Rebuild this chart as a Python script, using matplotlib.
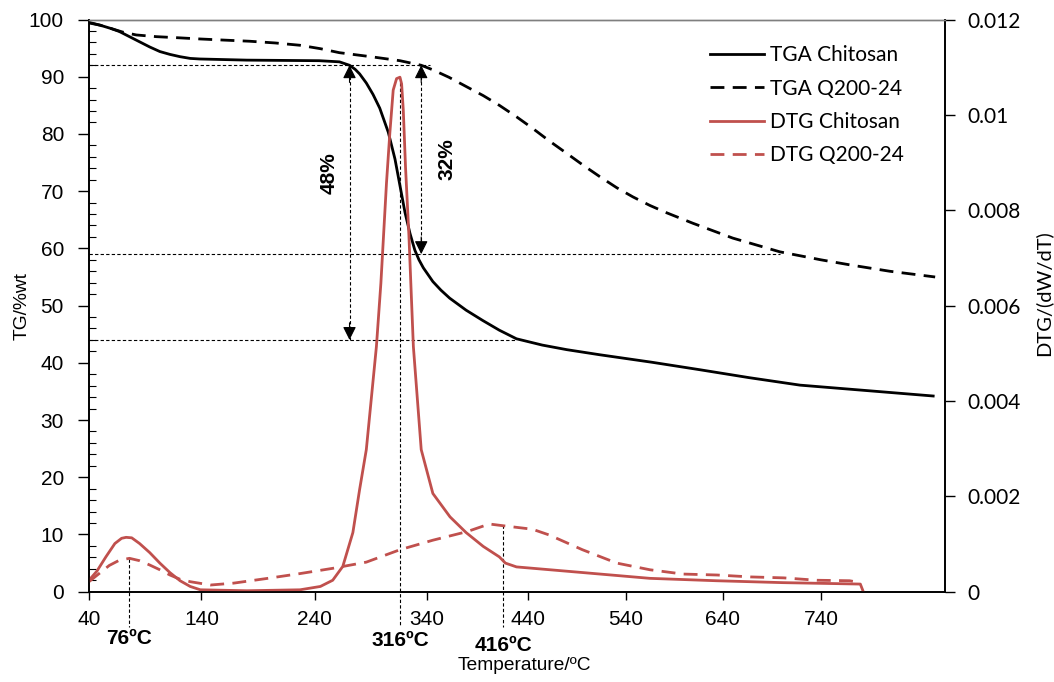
import numpy as np
import matplotlib.pyplot as plt
from matplotlib.font_manager import FontProperties

plt.rcParams['font.family'] = ['Liberation Sans', 'DejaVu Sans']

# TGA curves (left axis, %wt)
tga_chit_T = [40, 50, 60, 67, 76, 85, 94, 103, 112, 121, 130, 138.5, 180, 244, 262, 271, 276,
              280, 286, 292, 298, 305.6, 311.6, 316, 320.5, 325, 329.3, 333, 336.9, 346, 354,
              362.7, 379, 395.5, 412, 429, 455, 480, 514, 567, 616, 667, 718.6, 790, 854]
tga_chit = [99.4, 99.0, 98.4, 97.9, 97.0, 96.1, 95.2, 94.4, 93.9, 93.5, 93.2, 93.1, 92.9, 92.8,
            92.6, 92.0, 91.3, 90.5, 88.9, 86.9, 84.5, 80.3, 75.6, 71.0, 66.3, 62.6, 59.7, 58.0,
            56.6, 54.2, 52.7, 51.3, 49.2, 47.4, 45.7, 44.2, 43.1, 42.3, 41.4, 40.1, 38.8, 37.4,
            36.1, 35.1, 34.2]

tga_q_T = [40, 50, 60, 70, 82, 100, 120, 138.5, 160, 182.6, 205, 226.8, 245, 262, 290, 316, 335,
           346, 362, 380, 396, 412, 429, 445, 462, 480, 497, 514, 531, 547.5, 565, 582.5, 609,
           650, 698, 740, 770, 810, 856]
tga_q = [99.5, 99.0, 98.4, 97.8, 97.3, 97.0, 96.8, 96.6, 96.4, 96.2, 95.9, 95.5, 94.9, 94.2,
         93.5, 92.8, 92.0, 91.2, 89.9, 88.2, 86.7, 85.0, 83.0, 81.0, 78.8, 76.6, 74.5, 72.5,
         70.6, 69.0, 67.5, 66.2, 64.4, 61.8, 59.4, 58.0, 57.1, 56.0, 55.0]

# DTG curves (right axis)
dtg_chit_T = [40, 47, 55, 63, 69, 73, 78, 85, 94, 103, 112, 121, 130, 139, 180, 227, 245, 256,
              265, 274, 280, 286, 295, 299, 304, 307, 310, 313, 316, 317.5, 319, 321, 324, 328,
              335, 346, 363, 379, 396, 412, 418, 429, 497, 565, 633, 701, 780, 783]
dtg_chit = [0.00024, 0.00043, 0.00073, 0.00101, 0.00112, 0.00114, 0.00113, 0.00101, 0.00082,
            0.00060, 0.00040, 0.00023, 0.00011, 0.00004, 0.00002, 0.00004, 0.00011, 0.00024,
            0.00053, 0.00124, 0.00214, 0.00298, 0.00514, 0.00647, 0.00857, 0.00962, 0.01052,
            0.01076, 0.01079, 0.01065, 0.01010, 0.00890, 0.00748, 0.00514, 0.00298, 0.00206,
            0.00157, 0.00124, 0.00095, 0.00073, 0.00060, 0.00052, 0.00040, 0.00028, 0.00023,
            0.00019, 0.00016, 0.0]

dtg_q_T = [40, 49, 58, 67, 76, 85, 94, 103, 112, 121, 130, 148, 168.5, 198.5, 227, 256, 286,
           316, 346, 380, 402, 417, 445, 462, 496, 531, 565, 599, 634, 668, 702, 736, 769, 780]
dtg_q = [0.00021, 0.00038, 0.00055, 0.00066, 0.00070, 0.00065, 0.00056, 0.00046, 0.00035,
         0.00026, 0.00021, 0.00014, 0.00018, 0.00028, 0.00038, 0.00049, 0.00062, 0.00088,
         0.00108, 0.00126, 0.00142, 0.00138, 0.00131, 0.00119, 0.00088, 0.00060, 0.00046,
         0.00037, 0.00035, 0.00031, 0.00029, 0.00024, 0.00023, 0.00019]

x_ticks = [40, 140, 240, 340, 440, 540, 640, 740]
right_ticks = [0, 0.002, 0.004, 0.006, 0.008, 0.01, 0.012]
right_labels = ['0', '0.002', '0.004', '0.006', '0.008', '0.01', '0.012']

# annotation values
peaks = [(76, 5.8), (316, 89.9), (416, 11.6)]
onset = 92
end_chit = 44
end_q = 59

# the category-like x axis is not evenly spaced, map it piecewise
axis_T = [40, 140, 240, 340, 440, 540, 640, 740, 866]
axis_px = [89.3, 201.7, 315, 427, 527.7, 625.7, 723, 821, 945]
def fwd(t):
    return np.interp(t, axis_T, axis_px)
def inv(p):
    return np.interp(p, axis_px, axis_T)

red = '#C0504D'
lato = FontProperties(family='Lato', size=15)

fig = plt.figure(figsize=(10.54, 6.82), dpi=100)
ax = fig.add_axes([89 / 1054, 1 - 591.7 / 682, 856 / 1054, 572.2 / 682])
ax.set_xscale('function', functions=(fwd, inv))
ax.set_xlim(40, 866)
ax.set_ylim(0, 100)
ax2 = ax.twinx()
ax2.set_ylim(0, 0.012)

l1, = ax.plot(tga_chit_T, tga_chit, color='black', lw=2, label='TGA Chitosan')
l2, = ax.plot(tga_q_T, tga_q, color='black', lw=2, ls=(0, (5, 3)), label='TGA Q200-24')
l3, = ax2.plot(dtg_chit_T, dtg_chit, color=red, lw=2, label='DTG Chitosan')
l4, = ax2.plot(dtg_q_T, dtg_q, color=red, lw=2, ls=(0, (5, 3)), label='DTG Q200-24')

# guide lines
gkw = dict(color='black', lw=0.8, ls=(0, (3, 2)))
ax.plot([40, 343], [onset, onset], **gkw)
ax.plot([40, 698], [end_q, end_q], **gkw)
ax.plot([40, 429], [end_chit, end_chit], **gkw)
for T, top in peaks:
    ax.plot([T, T], [top, -6.2], clip_on=False, **gkw)

ax.text(76, -8.1, '76ºC', ha='center', va='center', fontsize=15, fontweight='bold')
ax.text(316, -8.6, '316ºC', ha='center', va='center', fontsize=15, fontweight='bold')
ax.text(416, -9.4, '416ºC', ha='center', va='center', fontsize=15, fontweight='bold')

# mass loss arrows
for T, bottom in [(271, end_chit), (335, end_q)]:
    ax.plot([T, T], [onset, bottom], **gkw)
    akw = dict(arrowstyle='-|>', mutation_scale=20, color='black', lw=0.8, shrinkA=0, shrinkB=0)
    ax.annotate('', xy=(T, onset), xytext=(T, onset - 3), arrowprops=akw)
    ax.annotate('', xy=(T, bottom), xytext=(T, bottom + 3), arrowprops=akw)
ax.text(252.5, 73.2, '48%', rotation=90, ha='center', va='center', fontsize=15, fontweight='bold')
ax.text(359.6, 75.6, '32%', rotation=90, ha='center', va='center', fontsize=15, fontweight='bold')

# axes styling
ax.set_xticks(x_ticks)
ax.set_xticklabels([str(t) for t in x_ticks])
ax.set_yticks(range(0, 101, 10))
ax.set_yticks(range(0, 101, 2), minor=True)
ax.tick_params(axis='x', which='both', direction='out', length=6, width=1, labelsize=15, pad=7)
ax.tick_params(axis='x', which='minor', length=0)
ax.tick_params(axis='y', which='major', direction='out', length=8, width=1, labelsize=15, pad=10)
ax.tick_params(axis='y', which='minor', direction='in', length=5, width=0.8)

ax2.set_yticks(right_ticks)
ax2.set_yticklabels(right_labels, fontproperties=lato)
ax2.tick_params(axis='y', direction='out', length=7, width=1, pad=9)
ax2.tick_params(axis='y', which='minor', length=0)

for a in (ax, ax2):
    for s in ('left', 'bottom', 'right'):
        a.spines[s].set_color('black')
        a.spines[s].set_linewidth(1.2)
    a.spines['top'].set_color('#7f7f7f')
    a.spines['top'].set_linewidth(1)

ax.set_xlabel('Temperature/ºC', fontsize=13.8)
ax.xaxis.set_label_coords(0.509, -0.1145)
ax.set_ylabel('TG/%wt', fontsize=13.8, va='center')
ax.yaxis.set_label_coords(-0.0783, 0.5)
ax2.set_ylabel('DTG/(dW/dT)', fontproperties=FontProperties(family='Lato', size=14.5), va='center')
ax2.yaxis.set_label_coords(1.1145, 0.522)

ax2.legend(handles=[l1, l2, l3, l4], loc='upper left', bbox_to_anchor=(0.7255, 0.955),
           frameon=False, prop=lato, handlelength=2.6, handletextpad=0.3,
           labelspacing=0.64, borderpad=0, borderaxespad=0)

fig.savefig('out.png', dpi=100)
